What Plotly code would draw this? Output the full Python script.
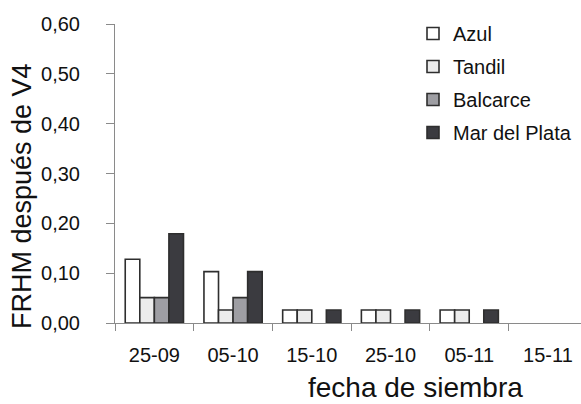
import plotly.graph_objects as go

# Sowing dates (categories) and FRHM after V4 for each locality
fechas = ["25-09", "05-10", "15-10", "25-10", "05-11", "15-11"]
azul = [0.128, 0.103, 0.026, 0.026, 0.026, 0.0]
tandil = [0.051, 0.026, 0.026, 0.026, 0.026, 0.0]
balcarce = [0.051, 0.051, 0.0, 0.0, 0.0, 0.0]
mar_del_plata = [0.179, 0.103, 0.026, 0.026, 0.026, 0.0]

series = [
    ("Azul", azul, "#ffffff"),
    ("Tandil", tandil, "#ececec"),
    ("Balcarce", balcarce, "#9e9ea3"),
    ("Mar del Plata", mar_del_plata, "#3b3b40"),
]

FONT = "Liberation Sans, Arial, sans-serif"

fig = go.Figure()
for i, (name, vals, color) in enumerate(series):
    # zero values are left empty so no flat outline is drawn
    y = [v if v > 0 else None for v in vals]
    fig.add_trace(go.Bar(
        x=fechas, y=y, name=name, legendgroup=f"g{i}",
        marker=dict(color=color, line=dict(color="#2e2e2e", width=1.6)),
    ))

W, H = 581, 404
L, T, B = 115, 24, 81
pw = W - L
ph = H - T - B

fig.update_layout(
    width=W, height=H,
    margin=dict(l=L, r=0, t=T, b=B),
    paper_bgcolor="white", plot_bgcolor="white",
    barmode="group", bargap=0.26, bargroupgap=0,
    font=dict(family=FONT, color="#111111"),
    showlegend=True,
    legend=dict(
        x=(413 - L) / pw, y=1 + 10 / ph, xanchor="left", yanchor="top",
        font=dict(size=20, family=FONT, color="#111111"),
        bgcolor="rgba(0,0,0,0)", tracegroupgap=4,
        itemwidth=30,
    ),
)

fig.update_xaxes(
    type="category", range=[-0.5, 5.42],
    showline=True, linecolor="#8a8a8a", linewidth=1,
    ticks="outside", tickson="boundaries", ticklen=7, tickcolor="#8a8a8a",
    tickfont=dict(size=20, family=FONT, color="#111111"),
    ticklabelstandoff=14,
    showgrid=False, zeroline=False,
)
fig.update_yaxes(
    range=[0, 0.6], tickvals=[0, 0.1, 0.2, 0.3, 0.4, 0.5, 0.6],
    ticktext=["0,00", "0,10", "0,20", "0,30", "0,40", "0,50", "0,60"],
    showline=True, linecolor="#8a8a8a", linewidth=1,
    ticks="outside", ticklen=8, tickcolor="#8a8a8a",
    tickfont=dict(size=20, family=FONT, color="#111111"),
    ticklabelstandoff=22,
    showgrid=False, zeroline=False,
)

fig.add_annotation(
    text="FRHM después de V4", textangle=-90,
    xref="paper", yref="paper",
    x=(22 - L) / pw, y=(H - B - 196) / ph,
    xanchor="center", yanchor="middle", showarrow=False,
    font=dict(size=27, family=FONT, color="#111111"),
)
fig.add_annotation(
    text="fecha de siembra",
    xref="paper", yref="paper",
    x=(415 - L) / pw, y=(H - B - 387) / ph,
    xanchor="center", yanchor="middle", showarrow=False,
    font=dict(size=28, family=FONT, color="#111111"),
)

fig.write_html("out.html")
